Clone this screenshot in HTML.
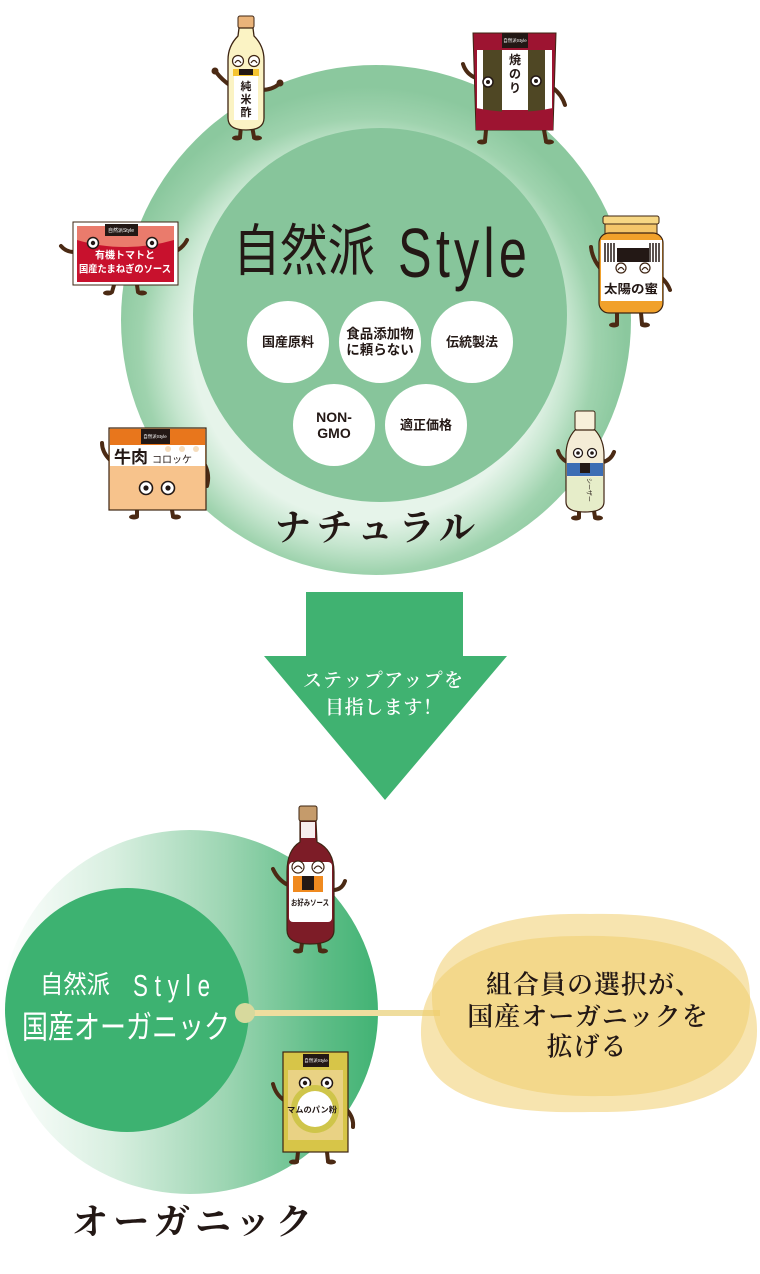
<!DOCTYPE html>
<html><head><meta charset="utf-8">
<style>
html,body{margin:0;padding:0;background:#fff;}
svg{display:block;}
.sans{font-family:"Liberation Sans","Noto Sans CJK JP",sans-serif;}
.serif{font-family:"Liberation Serif","Noto Serif CJK SC",serif;}
</style></head><body>
<svg width="760" height="1274" viewBox="0 0 760 1274" xmlns="http://www.w3.org/2000/svg">
<defs>
<radialGradient id="g1" gradientUnits="userSpaceOnUse" cx="368" cy="345" r="258">
 <stop offset="0" stop-color="#e6f4ea"/>
 <stop offset="0.68" stop-color="#e6f4ea"/>
 <stop offset="0.78" stop-color="#c6e6cf"/>
 <stop offset="0.88" stop-color="#9fd3ae"/>
 <stop offset="1" stop-color="#8bc89e"/>
</radialGradient>
<linearGradient id="g2" gradientUnits="userSpaceOnUse" x1="0" y1="0" x2="378" y2="0">
 <stop offset="0" stop-color="#ffffff"/>
 <stop offset="0.3" stop-color="#d8efe0"/>
 <stop offset="0.6" stop-color="#9cd5b2"/>
 <stop offset="0.85" stop-color="#5ebd87"/>
 <stop offset="1" stop-color="#42b374"/>
</linearGradient>
</defs>

<!-- TOP DIAGRAM -->
<circle cx="376" cy="320" r="255" fill="url(#g1)"/>
<circle cx="380" cy="315" r="187" fill="#87c59b"/>

<text class="sans" x="233" y="251" font-size="56" fill="#231815" dominant-baseline="central" textLength="142" lengthAdjust="spacingAndGlyphs">自然派</text>
<g transform="translate(398,277) scale(0.72,1)">
 <text class="sans" x="0" y="0" font-size="70" fill="#231815" textLength="179" lengthAdjust="spacing">Style</text>
</g>

<g fill="#fff">
 <circle cx="288" cy="342" r="41"/>
 <circle cx="380" cy="342" r="41"/>
 <circle cx="472" cy="342" r="41"/>
 <circle cx="334" cy="425" r="41"/>
 <circle cx="426" cy="425" r="41"/>
</g>
<g class="sans" font-size="13" font-weight="700" fill="#231815" text-anchor="middle" dominant-baseline="central">
 <text x="288" y="342">国産原料</text>
 <text x="380" y="334" font-size="13.5">食品添加物</text>
 <text x="380" y="350" font-size="13.5">に頼らない</text>
 <text x="472" y="342">伝統製法</text>
 <text x="334" y="417" font-size="14">NON-</text>
 <text x="334" y="433" font-size="14">GMO</text>
 <text x="426" y="425">適正価格</text>
</g>

<text class="serif" x="275" y="528" font-size="36" font-weight="700" fill="#231815" dominant-baseline="central" textLength="200" lengthAdjust="spacing">ナチュラル</text>

<!-- 純米酢 -->
<g stroke="#4b2a14" stroke-linecap="round" fill="none" stroke-width="4">
 <path d="M231,86 Q222,80 216,72"/><path d="M261,90 Q272,90 279,84"/>
 <path d="M241,126 L240,137"/><path d="M252,126 L254,137"/>
</g>
<g fill="#4b2a14"><circle cx="215" cy="71" r="3.5"/><circle cx="280" cy="83" r="3.5"/>
 <ellipse cx="237" cy="138" rx="5" ry="2.5"/><ellipse cx="257" cy="138" rx="5" ry="2.5"/></g>
<rect x="238" y="16" width="16" height="12" rx="2" fill="#eab47a" stroke="#3d2412"/>
<path d="M239,28 L253,28 L254,36 Q264,46 264,60 L264,118 Q264,130 246,130 Q228,130 228,118 L228,60 Q228,46 238,36 Z" fill="#fbf3c4" stroke="#3d2412" stroke-width="1.3"/>
<g fill="#fff" stroke="#3d2412" stroke-width="1.2"><circle cx="238" cy="61" r="5.5"/><circle cx="254" cy="61" r="5.5"/></g>
<g fill="none" stroke="#3d2412" stroke-width="1.2"><path d="M235,63 Q238,58 241,63"/><path d="M251,63 Q254,58 257,63"/></g>
<rect x="233" y="69" width="26" height="7" fill="#f5c431"/>
<rect x="239" y="69" width="14" height="6" fill="#231815"/>
<rect x="234" y="76" width="24" height="44" fill="#fff"/>
<g class="sans" font-size="11" font-weight="700" fill="#231815" text-anchor="middle" dominant-baseline="central">
 <text x="246" y="87">純</text><text x="246" y="100">米</text><text x="246" y="113">酢</text></g>

<!-- 焼のり -->
<g stroke="#4b2a14" stroke-linecap="round" fill="none" stroke-width="4">
 <path d="M476,78 Q466,74 463,64"/><path d="M553,88 Q562,95 565,105"/>
 <path d="M486,130 L485,141"/><path d="M544,130 L546,141"/>
</g>
<g fill="#4b2a14"><ellipse cx="482" cy="142" rx="5" ry="2.5"/><ellipse cx="549" cy="142" rx="5" ry="2.5"/></g>
<path d="M473,33 L556,33 L553,130 L476,130 Z" fill="#9d1431" stroke="#3d2412"/>
<rect x="477" y="50" width="75" height="60" fill="#fff"/>
<rect x="483" y="50" width="19" height="62" fill="#4f4724"/>
<rect x="528" y="50" width="17" height="62" fill="#4f4724"/>
<rect x="502" y="33" width="26" height="15" fill="#231815"/>
<text class="sans" x="515" y="42" font-size="4.5" fill="#fff" text-anchor="middle">自然派Style</text>
<path d="M476,108 Q515,116 553,108 L553,130 L476,130 Z" fill="#9d1431"/>
<g class="sans" font-size="12" font-weight="700" fill="#231815" text-anchor="middle" dominant-baseline="central">
 <text x="515" y="60">焼</text><text x="515" y="74">の</text><text x="515" y="88">り</text></g>
<g fill="#fff" stroke="#231815" stroke-width="1.5"><circle cx="488" cy="82" r="5"/><circle cx="536" cy="81" r="5"/></g>
<g fill="#231815"><circle cx="488" cy="82" r="2"/><circle cx="536" cy="81" r="2"/></g>

<!-- 太陽の蜜 -->
<g stroke="#4b2a14" stroke-linecap="round" fill="none" stroke-width="4">
 <path d="M600,268 Q592,258 591,247"/><path d="M662,278 Q668,284 670,290"/>
 <path d="M617,313 L617,324"/><path d="M641,313 L642,324"/>
</g>
<g fill="#4b2a14"><ellipse cx="614" cy="325" rx="5" ry="2.5"/><ellipse cx="645" cy="325" rx="5" ry="2.5"/></g>
<rect x="603" y="216" width="56" height="8" rx="2" fill="#f7d784" stroke="#3d2412"/>
<rect x="605" y="224" width="52" height="10" fill="#f4c66a" stroke="#3d2412"/>
<rect x="599" y="233" width="64" height="80" rx="10" fill="#f1a12b" stroke="#3d2412" stroke-width="1.2"/>
<rect x="601" y="240" width="61" height="61" fill="#fff"/>
<g stroke="#231815" stroke-width="1.5">
 <path d="M605,243 V262 M608,243 V262 M611,243 V262 M614,243 V262 M650,243 V262 M653,243 V262 M656,243 V262 M659,243 V262"/>
</g>
<rect x="617" y="248" width="32" height="14" fill="#231815"/>
<g fill="#fff" stroke="#3d2412" stroke-width="1.2"><circle cx="621" cy="268" r="5"/><circle cx="645" cy="268" r="5"/></g>
<g fill="none" stroke="#3d2412" stroke-width="1.2"><path d="M618,270 Q621,265 624,270"/><path d="M642,270 Q645,265 648,270"/></g>
<text class="sans" x="631" y="289" font-size="12" font-weight="700" fill="#231815" text-anchor="middle" dominant-baseline="central" textLength="54" lengthAdjust="spacingAndGlyphs">太陽の蜜</text>

<!-- 有機トマト -->
<g stroke="#4b2a14" stroke-linecap="round" fill="none" stroke-width="4">
 <path d="M74,252 Q66,252 61,246"/><path d="M178,250 Q184,246 187,240"/>
 <path d="M114,285 L112,292"/><path d="M137,285 L138,292"/>
</g>
<g fill="#4b2a14"><ellipse cx="108" cy="293" rx="5" ry="2.5"/><ellipse cx="142" cy="293" rx="5" ry="2.5"/></g>
<rect x="73" y="222" width="105" height="63" fill="#fff" stroke="#3d2412"/>
<rect x="77" y="226" width="97" height="56" fill="#c8112d"/>
<path d="M77,226 L174,226 L174,240 Q150,247 125,247 Q100,247 77,240 Z" fill="#ea7b6c"/>
<rect x="105" y="224" width="33" height="12" fill="#231815"/>
<text class="sans" x="121" y="232" font-size="5" fill="#fff" text-anchor="middle">自然派Style</text>
<g fill="#fff" stroke="#231815" stroke-width="1.5"><circle cx="93" cy="243" r="5.5"/><circle cx="152" cy="243" r="5.5"/></g>
<g fill="#231815"><circle cx="93" cy="243" r="2.2"/><circle cx="152" cy="243" r="2.2"/></g>
<g class="sans" font-weight="700" fill="#fff" text-anchor="middle" dominant-baseline="central">
 <text x="125" y="256" font-size="10">有機トマトと</text>
 <text x="125" y="270" font-size="10" textLength="92" lengthAdjust="spacingAndGlyphs">国産たまねぎのソース</text>
</g>

<!-- 牛肉コロッケ -->
<g stroke="#4b2a14" stroke-linecap="round" fill="none" stroke-width="4">
 <path d="M110,460 Q102,452 102,443"/><path d="M205,465 Q210,475 207,486"/>
 <path d="M137,510 L137,516"/><path d="M172,510 L173,516"/>
</g>
<g fill="#4b2a14"><ellipse cx="134" cy="517" rx="5" ry="2.5"/><ellipse cx="176" cy="517" rx="5" ry="2.5"/></g>
<rect x="109" y="428" width="97" height="82" fill="#f7c38c" stroke="#3d2412" stroke-width="1.2"/>
<rect x="110" y="429" width="95" height="16" fill="#e8761c"/>
<rect x="141" y="429" width="29" height="15" fill="#231815"/>
<text class="sans" x="155" y="438" font-size="4.5" fill="#fff" text-anchor="middle">自然派Style</text>
<rect x="110" y="445" width="95" height="21" fill="#fff"/>
<g fill="#f5dcbc"><circle cx="168" cy="449" r="3"/><circle cx="182" cy="449" r="3"/><circle cx="196" cy="449" r="3"/></g>
<text class="sans" x="114" y="463" font-size="17" font-weight="700" fill="#231815">牛肉</text>
<text class="sans" x="152" y="463" font-size="10" fill="#231815">コロッケ</text>
<g fill="#fff" stroke="#231815" stroke-width="1.6"><circle cx="146" cy="488" r="6.5"/><circle cx="168" cy="488" r="6.5"/></g>
<g fill="#231815"><circle cx="146" cy="488" r="2.6"/><circle cx="168" cy="488" r="2.6"/></g>

<!-- シーザードレッシング -->
<g stroke="#4b2a14" stroke-linecap="round" fill="none" stroke-width="4">
 <path d="M567,462 Q560,458 558,451"/><path d="M603,462 Q611,460 614,452"/>
 <path d="M579,511 L579,517"/><path d="M594,511 L595,517"/>
</g>
<g fill="#4b2a14"><ellipse cx="576" cy="518" rx="5" ry="2.5"/><ellipse cx="598" cy="518" rx="5" ry="2.5"/></g>
<rect x="575" y="411" width="20" height="19" rx="2" fill="#f8f0da" stroke="#3d2412"/>
<path d="M575,430 L595,430 Q604,440 604,455 L604,502 Q604,512 585,512 Q566,512 566,502 L566,455 Q566,440 575,430 Z" fill="#f4ecd6" stroke="#3d2412" stroke-width="1.2"/>
<path d="M567,477 L603,477 L603,502 Q603,511 585,511 Q567,511 567,502 Z" fill="#e6edc9"/>
<rect x="567" y="463" width="36" height="13" fill="#3c6db4"/>
<rect x="580" y="463" width="10" height="10" fill="#231815"/>
<g fill="#fff" stroke="#231815" stroke-width="1.3"><circle cx="578" cy="453" r="4.5"/><circle cx="592" cy="453" r="4.5"/></g>
<g fill="#231815"><circle cx="578" cy="453" r="1.8"/><circle cx="592" cy="453" r="1.8"/></g>
<text class="sans" x="0" y="0" font-size="6" fill="#231815" transform="translate(587,478) rotate(90)">シーザー</text>

<!-- ARROW -->
<polygon points="306,592 463,592 463,656 507,656 385,800 264,656 306,656" fill="#40b271"/>
<g class="serif" fill="#fff" font-size="19" font-weight="600" dominant-baseline="central">
 <text x="303" y="681" textLength="160" lengthAdjust="spacing">ステップアップを</text>
 <text x="325" y="708" textLength="117" lengthAdjust="spacing">目指します！</text>
</g>

<!-- BOTTOM DIAGRAM -->
<ellipse cx="190" cy="1012" rx="188" ry="182" fill="url(#g2)"/>
<circle cx="127" cy="1010" r="122" fill="#3db271"/>

<text class="sans" x="40" y="985" font-size="25" fill="#fff" dominant-baseline="central" textLength="70" lengthAdjust="spacingAndGlyphs">自然派</text>
<g transform="translate(133,996) scale(0.72,1)">
 <text class="sans" x="0" y="0" font-size="31" fill="#fff" textLength="107" lengthAdjust="spacing">Style</text>
</g>
<text class="sans" x="22" y="1027" font-size="32" fill="#fff" dominant-baseline="central" textLength="208" lengthAdjust="spacingAndGlyphs">国産オーガニック</text>

<!-- yellow blob -->
<line x1="245" y1="1013" x2="440" y2="1013" stroke="#efdd9e" stroke-width="6"/>
<circle cx="245" cy="1013" r="10" fill="#d7d99d"/>
<path d="M432,1000 C430,930 510,912 590,914 C670,912 750,928 750,995 C752,1065 690,1097 600,1096 C510,1098 434,1070 432,1000 Z" fill="rgb(240,205,110)" fill-opacity="0.55"/>
<path d="M421,1035 C419,962 490,936 580,936 C680,934 757,960 757,1030 C758,1096 680,1113 590,1112 C500,1114 423,1100 421,1035 Z" fill="rgb(240,205,110)" fill-opacity="0.55"/>

<g class="serif" font-size="26" font-weight="600" fill="#231815" text-anchor="middle" dominant-baseline="central">
 <text x="594" y="985" letter-spacing="1">組合員の選択が、</text>
 <text x="588" y="1017" letter-spacing="1">国産オーガニックを</text>
 <text x="587" y="1047" letter-spacing="1">拡げる</text>
</g>

<text class="serif" x="72" y="1222" font-size="36" font-weight="700" fill="#231815" dominant-baseline="central" textLength="240" lengthAdjust="spacing">オーガニック</text>

<!-- お好みソース -->
<g stroke="#4b2a14" stroke-linecap="round" fill="none" stroke-width="4">
 <path d="M288,885 Q278,880 273,869"/><path d="M333,890 Q342,890 345,881"/>
 <path d="M302,943 L301,950"/><path d="M319,943 L320,950"/>
</g>
<g fill="#4b2a14"><ellipse cx="298" cy="951" rx="5" ry="2.5"/><ellipse cx="323" cy="951" rx="5" ry="2.5"/></g>
<rect x="299" y="806" width="18" height="15" rx="2" fill="#c59b6b" stroke="#3d2412"/>
<path d="M300,821 L316,821 L317,842 Q334,850 334,872 L334,930 Q334,944 310,944 Q287,944 287,930 L287,872 Q287,850 300,842 Z" fill="#7d1c27" stroke="#3d2412" stroke-width="1.2"/>
<rect x="301" y="822" width="14" height="16" fill="#f7eeee"/>
<rect x="289" y="862" width="43" height="60" rx="4" fill="#fff"/>
<rect x="293" y="876" width="30" height="16" fill="#f08a1f"/>
<rect x="302" y="876" width="12" height="14" fill="#231815"/>
<g fill="#fff" stroke="#3d2412" stroke-width="1.2"><circle cx="298" cy="867" r="6"/><circle cx="318" cy="867" r="6"/></g>
<g fill="none" stroke="#3d2412" stroke-width="1.2"><path d="M294,869 Q298,863 302,869"/><path d="M314,869 Q318,863 322,869"/></g>
<text class="sans" x="310" y="903" font-size="8" font-weight="700" fill="#231815" text-anchor="middle" dominant-baseline="central" textLength="38" lengthAdjust="spacingAndGlyphs">お好みソース</text>

<!-- マムのパン粉 -->
<g stroke="#4b2a14" stroke-linecap="round" fill="none" stroke-width="4">
 <path d="M284,1100 Q276,1095 273,1084"/><path d="M347,1110 Q354,1118 353,1127"/>
 <path d="M298,1152 L297,1161"/><path d="M327,1152 L328,1161"/>
</g>
<g fill="#4b2a14"><ellipse cx="294" cy="1162" rx="5" ry="2.5"/><ellipse cx="331" cy="1162" rx="5" ry="2.5"/></g>
<rect x="283" y="1052" width="65" height="100" fill="#d7c548" stroke="#3d2412" stroke-width="1.2"/>
<rect x="288" y="1070" width="55" height="70" fill="#e9d284"/>
<rect x="303" y="1054" width="26" height="13" fill="#231815"/>
<text class="sans" x="316" y="1062" font-size="4.5" fill="#fff" text-anchor="middle">自然派Style</text>
<g fill="#fff" stroke="#231815" stroke-width="1.5"><circle cx="305" cy="1083" r="5.5"/><circle cx="327" cy="1083" r="5.5"/></g>
<g fill="#231815"><circle cx="305" cy="1083" r="2.2"/><circle cx="327" cy="1083" r="2.2"/></g>
<circle cx="315" cy="1109" r="24" fill="#cfc54a"/>
<circle cx="315" cy="1109" r="18" fill="#fff"/>
<text class="sans" x="312" y="1110" font-size="8" font-weight="700" fill="#231815" text-anchor="middle" dominant-baseline="central" textLength="50" lengthAdjust="spacingAndGlyphs">マムのパン粉</text>
</svg>
</body></html>
